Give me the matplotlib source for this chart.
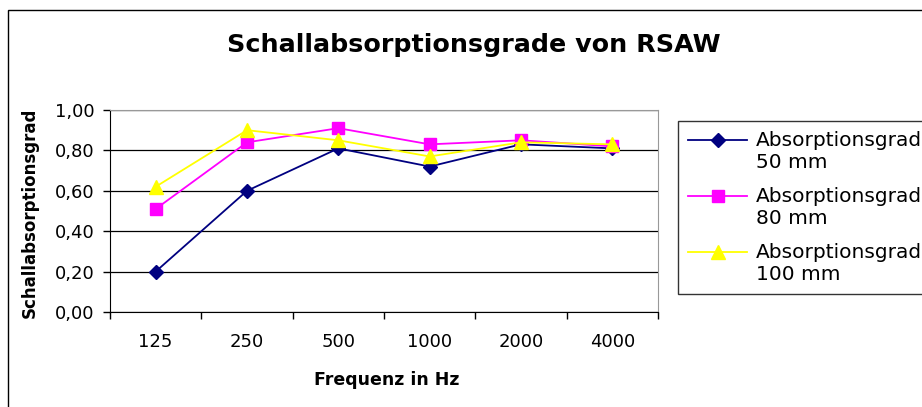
import matplotlib
matplotlib.use("Agg")
import matplotlib.pyplot as plt
import numpy as np
from matplotlib.patches import Rectangle
from matplotlib.ticker import FixedLocator, FuncFormatter

plt.rcParams['font.family'] = ['DejaVu Sans']

frequencies = ["125", "250", "500", "1000", "2000", "4000"]
grad_50 = [0.20, 0.60, 0.81, 0.72, 0.83, 0.81]
grad_80 = [0.51, 0.84, 0.91, 0.83, 0.85, 0.82]
grad_100 = [0.62, 0.90, 0.85, 0.77, 0.84, 0.83]
series_labels = ["Absorptionsgrad\n50 mm", "Absorptionsgrad\n80 mm", "Absorptionsgrad\n100 mm"]

W, H = 922, 407
fig = plt.figure(figsize=(W / 100, H / 100), dpi=100)
# outer chart frame (right and bottom edges fall outside the picture)
fig.patches.append(Rectangle((8 / W, -0.1), 1.2, 1 - 10 / H + 0.1, transform=fig.transFigure,
                             fill=False, edgecolor="black", linewidth=1.0))

ax = fig.add_axes([110 / W, 1 - 312 / H, 548 / W, 202 / H])
x = np.arange(len(frequencies))

ax.plot(x, grad_50, color="#000080", marker="D", markersize=7, linewidth=1.3, label=series_labels[0])
ax.plot(x, grad_80, color="#FF00FF", marker="s", markersize=9, linewidth=1.3, label=series_labels[1])
ax.plot(x, grad_100, color="#FFFF00", marker="^", markersize=10, linewidth=1.3, label=series_labels[2])

ax.set_xlim(-0.5, len(frequencies) - 0.5)
ax.set_ylim(0, 1.0)
ax.set_yticks(np.arange(0, 1.01, 0.2))
ax.yaxis.set_major_formatter(FuncFormatter(lambda v, p: f"{v:.2f}".replace(".", ",")))
ax.yaxis.grid(True, color="black", linewidth=0.9)
ax.set_axisbelow(True)

ax.set_xticks(x)
ax.set_xticklabels(frequencies)
ax.xaxis.set_minor_locator(FixedLocator(np.arange(-0.5, len(frequencies), 1.0)))
ax.tick_params(axis="x", which="major", length=0, pad=15, labelsize=13)
ax.tick_params(axis="x", which="minor", length=5, direction="out", width=1)
ax.tick_params(axis="y", length=5, direction="out", width=1, labelsize=13, pad=6)

for side in ["top", "right"]:
    ax.spines[side].set_color("#999999")
for side in ["left", "bottom"]:
    ax.spines[side].set_color("black")

fig.text(474 / W, 1 - 45 / H, "Schallabsorptionsgrade von RSAW", fontsize=18.3, fontweight="bold",
         ha="center", va="center")

ax.set_xlabel("Frequenz in Hz", fontsize=12.5, fontweight="bold")
ax.xaxis.set_label_coords(0.505, -(380 - 312) / 202)
ax.xaxis.label.set_va("center")
ax.set_ylabel("Schallabsorptionsgrad", fontsize=12, fontweight="bold")
ax.yaxis.set_label_coords(-80 / 548, 0.49)
ax.yaxis.label.set_va("center")

leg = ax.legend(loc="upper left", bbox_to_anchor=(678 / W, 1 - 121 / H), bbox_transform=fig.transFigure,
                fontsize=14.5, frameon=True, fancybox=False, edgecolor="black", borderpad=0.5,
                handlelength=2.93, handletextpad=0.45, labelspacing=0.74, borderaxespad=0)
leg.get_frame().set_linewidth(1.0)
# line up each legend key with the first line of its two-line label
for line in leg.get_lines():
    line.set_ydata(np.asarray(line.get_ydata()) + 8.3)

fig.savefig("out.png", dpi=100)
